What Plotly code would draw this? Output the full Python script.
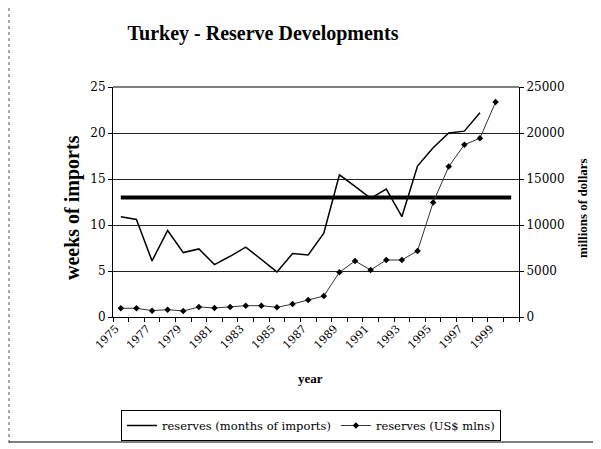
import plotly.graph_objects as go

# ---- data ----
months_years = list(range(1975, 1999))
months_values = [10.9, 10.6, 6.1, 9.4, 7.0, 7.4, 5.7, 6.6, 7.6, 6.3, 4.9, 6.9,
                 6.75, 9.1, 15.45, 14.2, 12.9, 13.9, 10.9, 16.4, 18.4, 20.0, 20.2, 22.2]

dollar_years = list(range(1975, 2000))
dollar_values = [950, 950, 690, 800, 650, 1090, 980, 1090, 1230, 1230, 1050, 1410,
                 1850, 2280, 4860, 6090, 5110, 6200, 6200, 7180, 12440, 16350,
                 18720, 19440, 23360]

benchmark_years = [1975, 2000]
benchmark_values = [13, 13]

tick_years = list(range(1975, 2000, 2))
tick_labels = [str(y) for y in tick_years]

left_ticks = [0, 5, 10, 15, 20, 25]
left_labels = [str(v) for v in left_ticks]
right_ticks = [0, 5000, 10000, 15000, 20000, 25000]
right_labels = [str(v) for v in right_ticks]

title_text = "Turkey - Reserve Developments"
name_months = "reserves (months of imports)"
name_dollars = "reserves (US$ mlns)"

SERIF = "Liberation Serif"
WIDE = "DejaVu Serif"

# page body has an 8px margin; figure is sized to fill the rest of the window
OFF = 8
W, H = 601 - OFF, 449 - OFF
PL, PT, PW, PH = 113 - OFF, 87 - OFF, 406, 230


def px(x):
    return (x - 113) / PW


def py(y):
    return (317 - y) / PH


fig = go.Figure()
fig.add_trace(go.Scatter(x=benchmark_years, y=benchmark_values, mode="lines",
                         line=dict(color="black", width=4), showlegend=False,
                         hoverinfo="skip"))
fig.add_trace(go.Scatter(x=months_years, y=months_values, mode="lines",
                         name=name_months, line=dict(color="black", width=1.5)))
fig.add_trace(go.Scatter(x=dollar_years, y=dollar_values, mode="lines+markers",
                         name=name_dollars, yaxis="y2",
                         line=dict(color="#333333", width=1),
                         marker=dict(symbol="diamond", size=5, color="black")))

fig.update_layout(
    width=W, height=H,
    paper_bgcolor="white", plot_bgcolor="white",
    margin=dict(l=PL, r=W - PL - PW, t=PT, b=H - PT - PH, pad=0),
    title=dict(text="<b>" + title_text + "</b>", x=(263 - OFF) / W,
               y=1 - (33 - OFF) / H,
               xanchor="center", yanchor="middle",
               font=dict(family=SERIF, size=20, color="black")),
    xaxis=dict(range=[1974.5, 2000.5], tickmode="array", tickvals=tick_years,
               ticktext=tick_labels, tickangle=-45, ticks="",
               ticklabelshift=-5,
               tickfont=dict(family=WIDE, size=11, color="black"),
               showgrid=False, zeroline=False, showline=True,
               linecolor="black", linewidth=1,
               minor=dict(ticks="outside", ticklen=4, tickcolor="black",
                          tick0=1974.5, dtick=1, showgrid=False)),
    yaxis=dict(range=[0, 25], tickmode="array", tickvals=left_ticks,
               ticktext=left_labels,
               ticks="outside", ticklen=4, tickcolor="black",
               tickfont=dict(family=WIDE, size=12, color="black"),
               showgrid=True, gridcolor="#222222", gridwidth=1,
               zeroline=False, showline=True, linecolor="black", linewidth=1),
    yaxis2=dict(range=[0, 25000], tickmode="array", tickvals=right_ticks,
                ticktext=right_labels,
                overlaying="y", side="right", ticks="outside", ticklen=4,
                tickcolor="black",
                tickfont=dict(family=WIDE, size=12, color="black"),
                showgrid=False, zeroline=False, showline=True,
                linecolor="black", linewidth=1),
    showlegend=True,
    legend=dict(orientation="h", x=(121 - OFF) / W, y=1 - (410 - OFF) / H,
                xref="container", yref="container",
                xanchor="left", yanchor="top",
                bordercolor="black", borderwidth=1, bgcolor="white",
                font=dict(family=WIDE, size=11.5, color="black"),
                itemwidth=30, tracegroupgap=0),
)

annotations = [
    dict(text="<b>weeks of imports</b>", x=px(72), y=py(208),
         xref="paper", yref="paper", textangle=-90, showarrow=False,
         xanchor="center", yanchor="middle",
         font=dict(family=SERIF, size=20, color="black")),
    dict(text="<b>millions of dollars</b>", x=px(582), y=py(208),
         xref="paper", yref="paper", textangle=-90, showarrow=False,
         xanchor="center", yanchor="middle",
         font=dict(family=SERIF, size=13, color="black")),
    dict(text="<b>year</b>", x=px(310), y=py(378),
         xref="paper", yref="paper", showarrow=False,
         xanchor="center", yanchor="middle",
         font=dict(family=SERIF, size=13, color="black")),
]
fig.update_layout(annotations=annotations)

# top border of plot area and outer frame remnants
shapes = [
    dict(type="line", xref="paper", yref="paper", x0=0, x1=1, y0=1, y1=1,
         line=dict(color="black", width=1)),
    dict(type="line", xref="paper", yref="paper", x0=px(9), x1=px(9),
         y0=py(8), y1=py(445),
         line=dict(color="#555555", width=1, dash="dot")),
    dict(type="line", xref="paper", yref="paper", x0=px(9), x1=px(597),
         y0=py(442), y1=py(442),
         line=dict(color="black", width=1)),
]
fig.update_layout(shapes=shapes)

fig.write_html("out.html")
